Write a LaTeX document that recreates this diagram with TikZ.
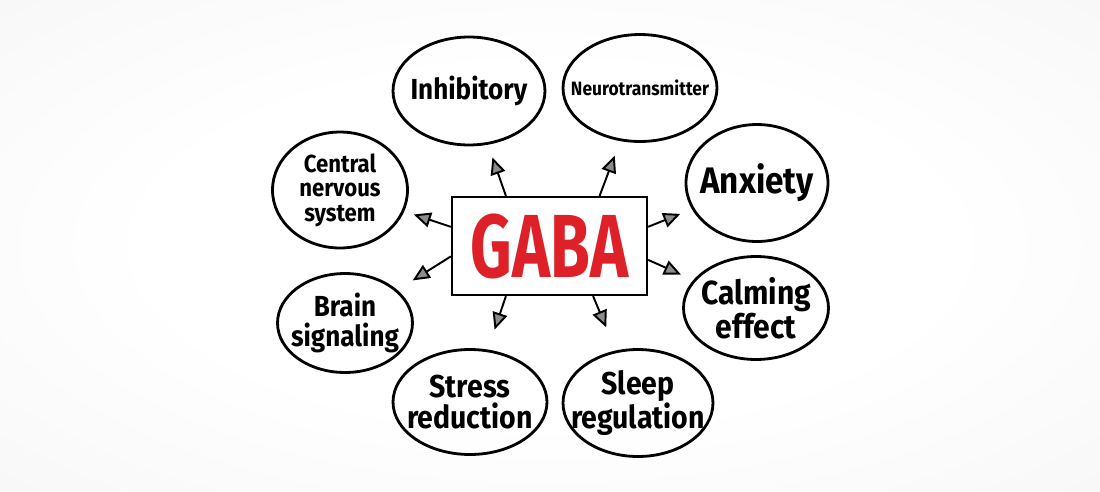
\documentclass[tikz,border=0pt]{standalone}
\usepackage{xcolor}
\usepackage{fontspec}
\setmainfont{Fira Sans}[FakeStretch=0.9]
\newfontfamily\gabafont{Fira Sans}[FakeStretch=0.72]
\usepackage{tikz}
\usetikzlibrary{positioning, shapes.geometric, arrows.meta}
\definecolor{gabared}{RGB}{222,32,40}
\definecolor{paperedge}{RGB}{242,242,242}
\pgfdeclareradialshading{paper}{\pgfpointorigin}{color(0bp)=(white); color(18bp)=(white); color(50bp)=(paperedge)}

\begin{document}
\begin{tikzpicture}[x=0.02cm, y=-0.02cm,
	bubble/.style={draw, ellipse, line width=1.6pt, inner sep=0pt},
	word/.style={align=center, text=black},
	spoke/.style={line width=1.1pt, -{Triangle[length=3.4mm, width=3mm, fill=black!45]}}]
	% Paper
	\useasboundingbox (0,0) rectangle (1100,491);
	\shade[shading=paper] (0,0) rectangle (1100,491);
	
	% Components
	\node[draw, line width=1.3pt, minimum width=3.9cm, minimum height=1.96cm, text=gabared, font=\gabafont\bfseries\fontsize{51}{52}\selectfont] (gaba) at (549.5,246) {GABA};
	\node[bubble, minimum width=3.04cm, minimum height=2.16cm, label={[word, font=\bfseries\fontsize{16.5}{16}\selectfont]center:Inhibitory}] (inhib) at (469,91) {};
	\node[bubble, minimum width=3.08cm, minimum height=2.14cm, label={[word, font=\bfseries\fontsize{11}{11}\selectfont]center:Neurotransmitter}] (neuro) at (640,88) {};
	\node[bubble, minimum width=2.84cm, minimum height=2.34cm, label={[word, font=\bfseries\fontsize{21}{20}\selectfont]center:Anxiety}] (anxiety) at (757,183) {};
	\node[bubble, minimum width=2.90cm, minimum height=2.06cm, label={[word, font=\bfseries\fontsize{19}{18}\selectfont]center:{Calming\\effect}}] (calming) at (756,308) {};
	\node[bubble, minimum width=3.00cm, minimum height=2.14cm, label={[word, font=\bfseries\fontsize{18}{18}\selectfont]center:{Sleep\\regulation}}] (sleep) at (638,403) {};
	\node[bubble, minimum width=3.08cm, minimum height=2.10cm, label={[word, font=\bfseries\fontsize{18}{18}\selectfont]center:{Stress\\reduction}}] (stress) at (470,402) {};
	\node[bubble, minimum width=2.70cm, minimum height=1.98cm, label={[word, font=\bfseries\fontsize{16.5}{17}\selectfont]center:{Brain\\signaling}}] (brain) at (345,323) {};
	\node[bubble, minimum width=2.70cm, minimum height=2.32cm, label={[word, font=\bfseries\fontsize{14}{14}\selectfont]center:{Central\\nervous\\system}}] (cns) at (340,190) {};
	
	% Connections
	\draw[spoke, shorten >=0.27cm] (gaba.131) -- (inhib);
	\draw[spoke, shorten >=0.31cm] (gaba.45) -- (neuro);
	\draw[spoke, shorten >=0.25cm] (gaba.11.6) -- (anxiety);
	\draw[spoke, shorten >=0.27cm] (gaba.352) -- (calming);
	\draw[spoke, shorten >=0.50cm] (gaba.311) -- (sleep);
	\draw[spoke, shorten >=0.42cm] (gaba.229) -- (stress);
	\draw[spoke, shorten >=0.36cm] (gaba.186) -- (brain);
	\draw[spoke, shorten >=0.20cm] (gaba.169.5) -- (cns);
\end{tikzpicture}
\end{document}
